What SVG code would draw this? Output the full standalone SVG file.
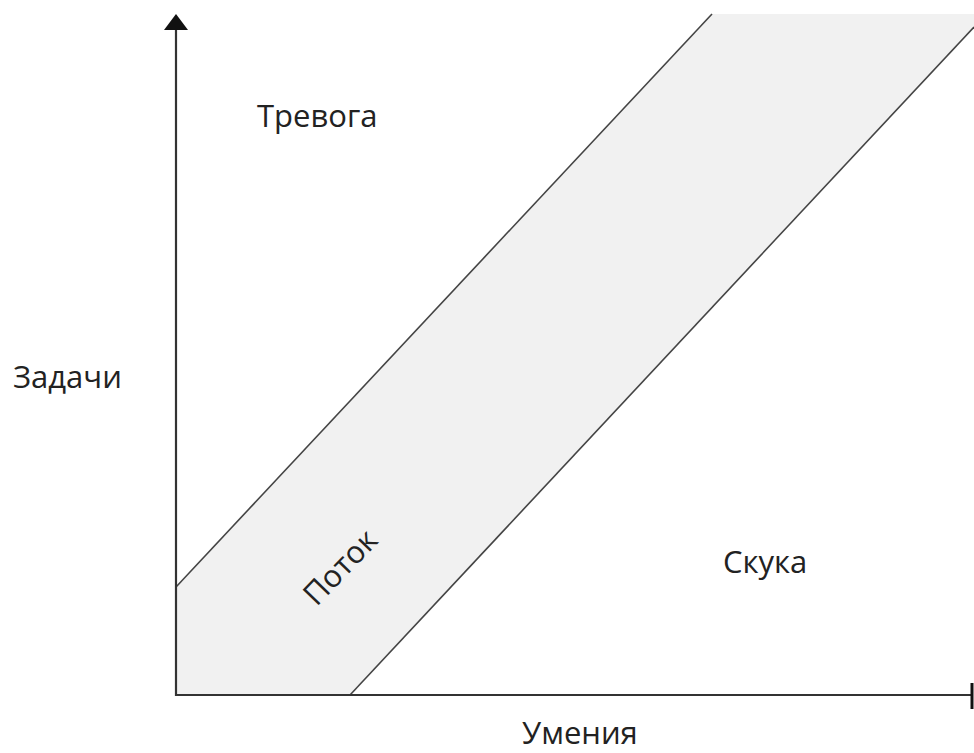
<svg xmlns="http://www.w3.org/2000/svg" width="974" height="753" viewBox="0 0 974 753">
<defs>
<style>
.lbl{font-family:"Open Sans","Noto Sans","Liberation Sans",sans-serif;font-size:31px;fill:#222;}
.edge{stroke:#444;stroke-width:1.6;fill:none;}
.axis{stroke:#333;stroke-width:2.2;fill:none;}
</style>
</defs>
<rect width="974" height="753" fill="#fff"/>
<g id="flow-band">
<polygon points="176,587 712,14 974,14 974,27 350,695 176,695" fill="#f1f1f1"/>
</g>
<g id="connectors">
<line class="edge" x1="176" y1="587" x2="712" y2="14"/>
<line class="edge" x1="350" y1="695" x2="974" y2="27"/>
<line class="axis" x1="176" y1="696" x2="176" y2="26"/>
<polygon points="176,14 164,30 188,30" fill="#111"/>
<line class="axis" x1="175" y1="695" x2="971" y2="695"/>
<line x1="972" y1="683" x2="972" y2="709" stroke="#111" stroke-width="3"/>
</g>
<g id="anxiety"><text class="lbl" x="257" y="127">Тревога</text></g>
<g id="tasks"><text class="lbl" x="13" y="388">Задачи</text></g>
<g id="skills"><text class="lbl" x="522" y="744">Умения</text></g>
<g id="boredom"><text class="lbl" x="723" y="573">Скука</text></g>
<g id="flow"><g transform="translate(340,567) rotate(-46)"><text class="lbl" x="0" y="11" text-anchor="middle">Поток</text></g></g>
</svg>
